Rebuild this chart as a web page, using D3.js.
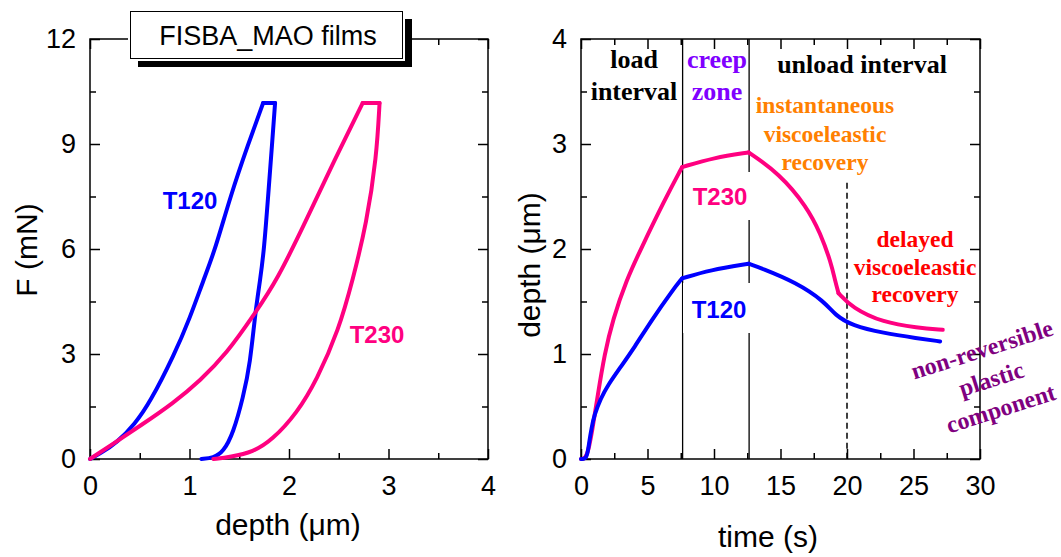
<!DOCTYPE html>
<html>
<head>
<meta charset="utf-8">
<script src="https://cdn.jsdelivr.net/npm/d3@7/dist/d3.min.js"></script>
<style>
  body { margin: 0; background: #fff; }
  svg { display: block; }
</style>
</head>
<body>
<svg id="chart" width="1061" height="557"></svg>
<script>
// ---- left panel: F (mN) vs depth (um), [depth, F]
const t120Load = [[0, 0], [0.1, 0.15], [0.28, 0.49], [0.45, 1.0], [0.6, 1.6], [0.85, 3.0], [1.0, 4.0],
    [1.14, 5.11], [1.26, 6.0], [1.41, 7.5], [1.59, 9.0], [1.74, 10.17]];
const t120Hold = [[1.74, 10.17], [1.86, 10.17]];
const t120Unload = [[1.86, 10.17], [1.83, 9.0], [1.79, 7.5], [1.75, 6.0], [1.71, 5.11], [1.66, 4.17],
    [1.61, 2.74], [1.54, 1.77], [1.44, 0.74], [1.34, 0.2], [1.24, 0.03], [1.12, 0]];

const t230Load = [[0, 0], [0.25, 0.47], [0.5, 0.94], [0.84, 1.6], [1.11, 2.25], [1.37, 3.0], [1.66, 4.17],
    [1.88, 5.11], [2.17, 6.8], [2.45, 8.5], [2.74, 10.17]];
const t230Hold = [[2.74, 10.17], [2.91, 10.17]];
const t230Unload = [[2.91, 10.17], [2.88, 8.63], [2.78, 6.74], [2.64, 5.11], [2.5, 3.69], [2.28, 2.26],
    [2.08, 1.31], [1.83, 0.54], [1.64, 0.2], [1.41, 0.06], [1.24, 0]];

// ---- right panel: depth (um) vs time (s), [t, depth], split by test phase
const t120LoadT = [[0, 0], [0.45, 0], [0.6, 0.15], [0.8, 0.3], [1.0, 0.42], [1.5, 0.58], [2.0, 0.7],
    [3.0, 0.88], [4.0, 1.06], [5.3, 1.32], [6.9, 1.61], [7.6, 1.72]];
const t120CreepT = [[7.6, 1.72], [9.7, 1.8], [12.6, 1.86]];
const t120UnloadT = [[12.6, 1.86], [13.5, 1.82], [16.2, 1.68], [18.3, 1.5], [19.1, 1.37], [20.4, 1.27],
    [22.7, 1.2], [25.3, 1.15], [27.0, 1.12]];

const t230LoadT = [[0, 0], [0.45, 0], [0.86, 0.28], [1.25, 0.6], [1.77, 1.0], [2.4, 1.33], [3.4, 1.7],
    [4.5, 2.0], [6.3, 2.47], [7.6, 2.78]];
const t230CreepT = [[7.6, 2.78], [10, 2.87], [12.6, 2.92]];
const t230UnloadT = [[12.6, 2.92], [14.9, 2.72], [17.0, 2.4], [18.0, 2.15], [18.8, 1.87], [19.1, 1.7],
    [19.36, 1.58]];
const t230RecoverT = [[19.36, 1.58], [20.4, 1.44], [22.7, 1.3], [25.3, 1.25], [27.2, 1.23]];

const zoneTimes = [7.64, 12.64];
const recoveryTime = 20;
const recoveryTop = 2.63;

// ticks
const depthTicks = [0, 1, 2, 3, 4];
const depthMinor = [0.5, 1.5, 2.5, 3.5];
const forceTicks = [0, 3, 6, 9, 12];
const forceMinor = [1.5, 4.5, 7.5, 10.5];
const timeTicks = [0, 5, 10, 15, 20, 25, 30];
const timeMinor = [2.5, 7.5, 12.5, 17.5, 22.5, 27.5];
const hTicks = [0, 1, 2, 3, 4];
const hMinor = [0.5, 1.5, 2.5, 3.5];

const BLUE = "#0000ff";
const PINK = "#ff0080";
const SANS = "'Liberation Sans', Arial, sans-serif";
const SERIF = "'Liberation Serif', 'Times New Roman', serif";

const svg = d3.select("#chart");

const xL = d3.scaleLinear().domain([0, 4]).range([90, 488]);
const yL = d3.scaleLinear().domain([0, 12]).range([459, 39]);
const xR = d3.scaleLinear().domain([0, 30]).range([581, 980]);
const yR = d3.scaleLinear().domain([0, 4]).range([459, 39]);

function styleTicks(g) {
    g.select(".domain").remove();
    g.selectAll("line").attr("stroke", "#000").attr("stroke-width", 1.5);
    g.selectAll("text").style("font", "27px " + SANS).attr("fill", "#000");
}

function drawFrame(x, y, xMajor, xMinor, yMajor, yMinor) {
    const g = svg.append("g");
    const [x0, x1] = x.range();
    const [y0, y1] = y.range();
    const fmt = d3.format("d");

    g.append("g").attr("transform", `translate(0,${y0})`)
        .call(d3.axisBottom(x).tickValues(xMajor).tickSize(-10).tickPadding(17).tickFormat(fmt))
        .call(styleTicks);
    g.append("g").attr("transform", `translate(0,${y0})`)
        .call(d3.axisBottom(x).tickValues(xMinor).tickSize(-6).tickFormat(""))
        .call(styleTicks);
    g.append("g").attr("transform", `translate(0,${y1})`)
        .call(d3.axisTop(x).tickValues(xMajor).tickSize(-10).tickFormat(""))
        .call(styleTicks);
    g.append("g").attr("transform", `translate(0,${y1})`)
        .call(d3.axisTop(x).tickValues(xMinor).tickSize(-6).tickFormat(""))
        .call(styleTicks);

    g.append("g").attr("transform", `translate(${x0},0)`)
        .call(d3.axisLeft(y).tickValues(yMajor).tickSize(-10).tickPadding(14).tickFormat(fmt))
        .call(styleTicks);
    g.append("g").attr("transform", `translate(${x0},0)`)
        .call(d3.axisLeft(y).tickValues(yMinor).tickSize(-6).tickFormat(""))
        .call(styleTicks);
    g.append("g").attr("transform", `translate(${x1},0)`)
        .call(d3.axisRight(y).tickValues(yMajor).tickSize(-10).tickFormat(""))
        .call(styleTicks);
    g.append("g").attr("transform", `translate(${x1},0)`)
        .call(d3.axisRight(y).tickValues(yMinor).tickSize(-6).tickFormat(""))
        .call(styleTicks);

    g.append("rect")
        .attr("x", x0).attr("y", y1)
        .attr("width", x1 - x0).attr("height", y0 - y1)
        .attr("fill", "none").attr("stroke", "#000").attr("stroke-width", 1.5);
}

// measured points are a bit noisy, so smooth with a B-spline; each phase is its own path
function drawCurve(data, x, y, color, curve) {
    svg.append("path")
        .datum(data)
        .attr("d", d3.line().x(d => x(d[0])).y(d => y(d[1])).curve(curve || d3.curveBasis))
        .attr("fill", "none")
        .attr("stroke", color)
        .attr("stroke-width", 4)
        .attr("stroke-linecap", "round")
        .attr("stroke-linejoin", "round");
}

function label(x, y, txt, color, font, anchor) {
    return svg.append("text")
        .attr("x", x).attr("y", y)
        .attr("text-anchor", anchor || "middle")
        .attr("fill", color)
        .style("font", font)
        .text(txt);
}

/***
 * Left panel
 */
drawFrame(xL, yL, depthTicks, depthMinor, forceTicks, forceMinor);

[t120Load, t120Hold, t120Unload].forEach(d => drawCurve(d, xL, yL, BLUE));
[t230Load, t230Hold, t230Unload].forEach(d => drawCurve(d, xL, yL, PINK));

label(190, 209, "T120", BLUE, "bold 24px " + SANS);
label(377, 343, "T230", PINK, "bold 24px " + SANS);

// legend box with drop shadow
svg.append("rect").attr("x", 138).attr("y", 19).attr("width", 274).attr("height", 48).attr("fill", "#000");
svg.append("rect").attr("x", 128).attr("y", 9).attr("width", 277).attr("height", 52).attr("fill", "#fff");
svg.append("rect").attr("x", 130.5).attr("y", 11.5).attr("width", 272).attr("height", 47)
    .attr("fill", "#fff").attr("stroke", "#000").attr("stroke-width", 1);
label(268, 45, "FISBA_MAO films", "#000", "27px " + SANS);

label(288, 535, "depth (\u03bcm)", "#000", "30px " + SANS);
svg.append("text")
    .attr("transform", "translate(37,250) rotate(-90)")
    .attr("text-anchor", "middle")
    .style("font", "30px " + SANS)
    .text("F (mN)");

/***
 * Right panel
 */
drawFrame(xR, yR, timeTicks, timeMinor, hTicks, hMinor);

svg.append("g").selectAll("line")
    .data(zoneTimes)
    .join("line")
    .attr("x1", d => xR(d)).attr("x2", d => xR(d))
    .attr("y1", yR(4)).attr("y2", yR(0))
    .attr("stroke", "#000").attr("stroke-width", 1.3);

svg.append("line")
    .attr("x1", xR(recoveryTime)).attr("x2", xR(recoveryTime))
    .attr("y1", yR(recoveryTop)).attr("y2", yR(0))
    .attr("stroke", "#000").attr("stroke-width", 1.5)
    .attr("stroke-dasharray", "6,4");

// white backgrounds under the series labels
svg.append("rect").attr("x", 684).attr("y", 172).attr("width", 70).attr("height", 48).attr("fill", "#fff");
svg.append("rect").attr("x", 683).attr("y", 283).attr("width", 71).attr("height", 50).attr("fill", "#fff");

[t230LoadT, t230CreepT, t230UnloadT, t230RecoverT].forEach(d => drawCurve(d, xR, yR, PINK));
[t120LoadT, t120CreepT, t120UnloadT].forEach(d => drawCurve(d, xR, yR, BLUE));

label(720, 205, "T230", PINK, "bold 24px " + SANS);
label(719, 318, "T120", BLUE, "bold 24px " + SANS);

const headFont = "bold 26px " + SERIF;
const noteFont = "bold 23.5px " + SERIF;
label(634, 68, "load", "#000", headFont);
label(634, 100, "interval", "#000", headFont);
label(717, 68, "creep", "#8000ff", headFont);
label(717, 100, "zone", "#8000ff", headFont);
label(862, 73, "unload interval", "#000", headFont);

label(825, 113, "instantaneous", "#ff8000", noteFont);
label(825, 142, "viscoeleastic", "#ff8000", noteFont);
label(825, 170, "recovery", "#ff8000", noteFont);

label(915, 247, "delayed", "#ff0000", noteFont);
label(915, 275, "viscoeleastic", "#ff0000", noteFont);
label(915, 302, "recovery", "#ff0000", noteFont);

const plastic = svg.append("g")
    .attr("transform", "translate(992,381) rotate(-17.7)")
    .attr("fill", "#800080")
    .style("font", "bold 24px " + SERIF)
    .attr("text-anchor", "middle");
["non-reversible", "plastic", "component"].forEach((t, i) => {
    plastic.append("text").attr("x", 0).attr("y", (i - 1) * 31 + 6).text(t);
});

label(768, 547, "time (s)", "#000", "30px " + SANS);
svg.append("text")
    .attr("transform", "translate(540,265) rotate(-90)")
    .attr("text-anchor", "middle")
    .style("font", "30px " + SANS)
    .text("depth (\u03bcm)");
</script>
</body>
</html>
